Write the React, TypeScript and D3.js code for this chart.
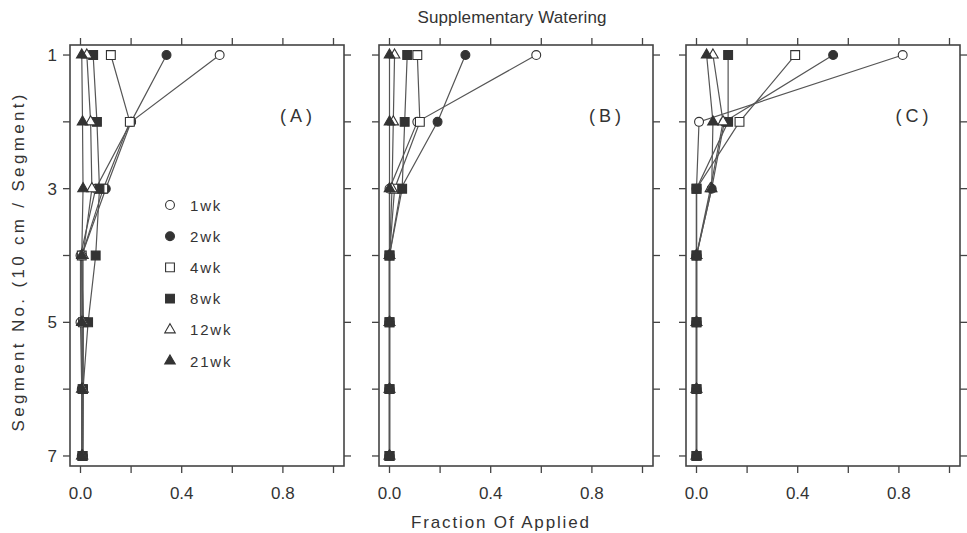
import React from 'react';
import * as d3 from 'd3';

const segments = [1, 2, 3, 4, 5, 6, 7];
const seriesLabels = ['1wk', '2wk', '4wk', '8wk', '12wk', '21wk'];
const panelLabels = ['(A)', '(B)', '(C)'];
const xTicks = [0, 0.2, 0.4, 0.6, 0.8, 1.0];
const xTickLabelValues = [0, 0.4, 0.8];
const yTickLabelValues = [1, 3, 5, 7];

// rows: 1wk, 2wk, 4wk, 8wk, 12wk, 21wk ; columns: segment 1..7
const panelA: number[][] = [
  [0.55, 0.2, 0.06, 0.0, 0.0, 0.005, 0.005],
  [0.34, 0.2, 0.1, 0.005, 0.01, 0.01, 0.01],
  [0.12, 0.195, 0.09, 0.005, 0.01, 0.008, 0.008],
  [0.05, 0.065, 0.075, 0.06, 0.03, 0.01, 0.008],
  [0.025, 0.04, 0.045, 0.01, 0.01, 0.01, 0.008],
  [0.005, 0.008, 0.01, 0.005, 0.005, 0.005, 0.005],
];
const panelB: number[][] = [
  [0.58, 0.11, 0.0, 0.0, 0.0, 0.0, 0.0],
  [0.3, 0.19, 0.045, 0.0, 0.0, 0.0, 0.0],
  [0.11, 0.12, 0.02, 0.0, 0.0, 0.0, 0.0],
  [0.07, 0.06, 0.05, 0.0, 0.0, 0.0, 0.0],
  [0.02, 0.015, 0.01, 0.0, 0.0, 0.0, 0.0],
  [0.0, 0.0, 0.0, 0.0, 0.0, 0.0, 0.0],
];
const panelC: number[][] = [
  [0.815, 0.01, 0.0, 0.0, 0.0, 0.0, 0.0],
  [0.54, 0.11, 0.06, 0.0, 0.0, 0.0, 0.0],
  [0.39, 0.17, 0.0, 0.0, 0.0, 0.0, 0.0],
  [0.125, 0.125, 0.0, 0.0, 0.0, 0.0, 0.0],
  [0.065, 0.105, 0.055, 0.0, 0.0, 0.0, 0.0],
  [0.04, 0.065, 0.06, 0.0, 0.0, 0.0, 0.0],
];
const panels = [panelA, panelB, panelC];

const markerTypes = [d3.symbolCircle, d3.symbolCircle, d3.symbolSquare, d3.symbolSquare, d3.symbolTriangle, d3.symbolTriangle];
const markerFilled = [false, true, false, true, false, true];
const markerSizes = [62, 62, 78, 78, 48, 48];

const W = 967;
const H = 533;
const panelLefts = [70, 379, 686];
const panelWidth = 274;
const top = 45;
const bottom = 466;
const ink = '#333';
const lineCol = '#555';
const font = "'Liberation Sans', Arial, Helvetica, sans-serif";

function Marker({ i, x, y }: { i: number; x: number; y: number }) {
  const path = d3.symbol().type(markerTypes[i]).size(markerSizes[i])() || '';
  return (
    <path
      d={path}
      transform={`translate(${x},${y})`}
      fill={markerFilled[i] ? ink : '#fff'}
      stroke={ink}
      strokeWidth={1.1}
    />
  );
}

function Panel({ idx }: { idx: number }) {
  const left = panelLefts[idx];
  const right = left + panelWidth;
  const x = d3.scaleLinear().domain([-0.0415, 1.0415]).range([left, right]);
  const y = d3.scaleLinear().domain([0.85, 7.15]).range([top, bottom]);
  const data = panels[idx];
  const line = d3
    .line<number>()
    .x((d) => x(d))
    .y((_, j) => y(segments[j]));
  return (
    <g>
      <rect x={left} y={top} width={panelWidth} height={bottom - top} fill="none" stroke="#444" strokeWidth={1.6} />
      {xTicks.map((t) => (
        <g key={'xt' + t}>
          <line x1={x(t)} x2={x(t)} y1={top} y2={top - 7} stroke="#444" strokeWidth={1.3} />
          <line x1={x(t)} x2={x(t)} y1={bottom} y2={bottom + 7} stroke="#444" strokeWidth={1.3} />
        </g>
      ))}
      {xTickLabelValues.map((t) => (
        <text key={'xl' + t} x={x(t)} y={499} textAnchor="middle" fontSize={17} fill={ink} fontFamily={font}>
          {d3.format('.1f')(t)}
        </text>
      ))}
      {segments.map((s) => (
        <g key={'yt' + s}>
          <line x1={left} x2={left - 7} y1={y(s)} y2={y(s)} stroke="#444" strokeWidth={1.3} />
          <line x1={right} x2={right + 7} y1={y(s)} y2={y(s)} stroke="#444" strokeWidth={1.3} />
        </g>
      ))}
      {idx === 0 &&
        yTickLabelValues.map((s) => (
          <text key={'yl' + s} x={57} y={y(s) + 6} textAnchor="end" fontSize={17} fill={ink} fontFamily={font}>
            {s}
          </text>
        ))}
      {data.map((vals, i) => (
        <path key={'ln' + i} d={line(vals) || ''} fill="none" stroke={lineCol} strokeWidth={1.2} />
      ))}
      {data.map((vals, i) =>
        vals.map((v, j) => <Marker key={'m' + i + '-' + j} i={i} x={x(v)} y={y(segments[j])} />)
      )}
      <text x={left + 228} y={122} textAnchor="middle" fontSize={18} letterSpacing={4} fill={ink} fontFamily={font}>
        {panelLabels[idx]}
      </text>
    </g>
  );
}

export default function App() {
  return (
    <svg width={W} height={H} viewBox={`0 0 ${W} ${H}`} style={{ position: 'absolute', left: 0, top: 0, background: '#fff' }}>
      <rect x={0} y={0} width={W} height={H} fill="#fff" />
      <text x={512} y={23} textAnchor="middle" fontSize={17} fill={ink} fontFamily={font} textLength={189} lengthAdjust="spacing">
        Supplementary Watering
      </text>
      <text
        transform="translate(24,263) rotate(-90)"
        textAnchor="middle"
        fontSize={17}
        fill={ink}
        fontFamily={font}
        textLength={337}
        lengthAdjust="spacing"
      >
        Segment No. (10 cm / Segment)
      </text>
      <text x={500} y={528} textAnchor="middle" fontSize={17} fill={ink} fontFamily={font} textLength={178} lengthAdjust="spacing">
        Fraction Of Applied
      </text>
      {[0, 1, 2].map((i) => (
        <Panel key={i} idx={i} />
      ))}
      {seriesLabels.map((lab, i) => (
        <g key={'lg' + i}>
          <Marker i={i} x={170} y={205 + i * 31.2} />
          <text x={190} y={205 + i * 31.2 + 5.5} fontSize={15} letterSpacing={1.8} fill={ink} fontFamily={font}>
            {lab}
          </text>
        </g>
      ))}
    </svg>
  );
}
